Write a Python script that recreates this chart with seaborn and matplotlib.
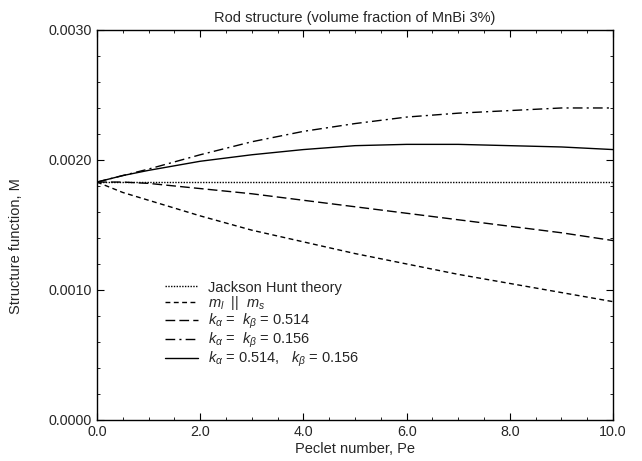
import numpy as np
import pandas as pd
import matplotlib
matplotlib.use("Agg")
import matplotlib.pyplot as plt
import seaborn as sns
from matplotlib.ticker import MultipleLocator, FormatStrFormatter
from matplotlib.lines import Line2D

pe = [0, 0.5, 1, 2, 3, 4, 5, 6, 7, 8, 9, 10]
jackson_hunt = [0.00183] * 12
ml_ms = [0.00183, 0.00175, 0.00169, 0.00157, 0.00146, 0.00137, 0.00128, 0.00120, 0.00112, 0.00105, 0.00098, 0.00091]
k_514 = [0.00183, 0.00183, 0.00182, 0.00178, 0.00174, 0.00169, 0.00164, 0.00159, 0.00154, 0.00149, 0.00144, 0.00138]
k_156 = [0.00183, 0.00188, 0.00193, 0.00204, 0.00214, 0.00222, 0.00228, 0.00233, 0.00236, 0.00238, 0.00240, 0.00240]
k_mixed = [0.00183, 0.00188, 0.00192, 0.00199, 0.00204, 0.00208, 0.00211, 0.00212, 0.00212, 0.00211, 0.00210, 0.00208]

labels = [
    "Jackson Hunt theory",
    r"$m_l$  $||$  $m_s$",
    r"$k_\alpha$ =  $k_\beta$ = 0.514",
    r"$k_\alpha$ =  $k_\beta$ = 0.156",
    r"$k_\alpha$ = 0.514,   $k_\beta$ = 0.156",
]
series = [jackson_hunt, ml_ms, k_514, k_156, k_mixed]
dash_styles = [(1, 1), (3.5, 2.5), (7, 3), (7, 3, 1.5, 3), ""]

df = pd.concat([pd.DataFrame({"Pe": pe, "M": s, "series": lab}) for s, lab in zip(series, labels)])

sns.set_style("ticks")
plt.rcParams["font.family"] = ["Liberation Sans", "DejaVu Sans"]
plt.rcParams["mathtext.fontset"] = "custom"
plt.rcParams["mathtext.rm"] = "Liberation Sans"
plt.rcParams["mathtext.it"] = "Liberation Sans:italic"
plt.rcParams["mathtext.bf"] = "Liberation Sans:bold"

fig = plt.figure(figsize=(6.42, 4.61), dpi=100)
ax = fig.add_axes([0.151, 0.089, 0.804, 0.846])

sns.lineplot(data=df, x="Pe", y="M", hue="series", style="series",
             palette=["black"] * 5, dashes=dict(zip(labels, dash_styles)),
             linewidth=1.0, ax=ax, legend=False)

handles = []
for lab, d in zip(labels, dash_styles):
    h = Line2D([0], [0], color="black", linewidth=1.0)
    if d:
        h.set_dashes(d)
    handles.append(h)
ax.legend(handles, labels, loc="lower left", bbox_to_anchor=(0.132, 0.13), frameon=False,
          fontsize=10.5, handlelength=2.25, labelspacing=-0.02, handletextpad=0.7,
          borderpad=0, borderaxespad=0)

ax.set_xlim(0, 10)
ax.set_ylim(0, 0.003)
ax.xaxis.set_major_locator(MultipleLocator(2))
ax.xaxis.set_minor_locator(MultipleLocator(0.5))
ax.yaxis.set_major_locator(MultipleLocator(0.001))
ax.yaxis.set_minor_locator(MultipleLocator(0.0002))
ax.xaxis.set_major_formatter(FormatStrFormatter("%.1f"))
ax.yaxis.set_major_formatter(FormatStrFormatter("%.4f"))
ax.tick_params(which="both", direction="in", top=True, right=True, labelsize=10.3, color="black")
ax.tick_params(which="major", length=5)
ax.tick_params(which="minor", length=2.5)
for s in ax.spines.values():
    s.set_linewidth(1.0)
    s.set_color("black")

ax.set_xlabel("Peclet number, Pe", fontsize=10.5, labelpad=2)
ax.set_ylabel("Structure function, M", fontsize=10.5)
ax.yaxis.set_label_coords(-0.143, 0.446)
ax.set_title("Rod structure (volume fraction of MnBi 3%)", fontsize=10.5, pad=6)

fig.savefig("out.png", dpi=100)
